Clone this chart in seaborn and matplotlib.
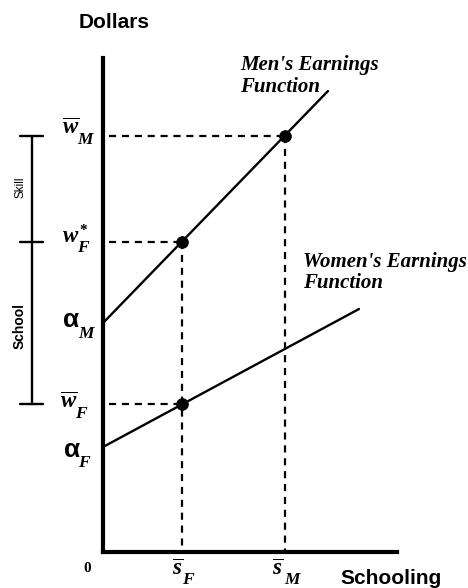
import matplotlib
matplotlib.use("Agg")
import matplotlib.pyplot as plt
from matplotlib.mathtext import MathTextParser
import seaborn as sns
import pandas as pd

# Earnings functions (schooling on x, dollars on y)
men_x = [0.0, 22.5]
men_y = [22.9, 46.1]
women_x = [0.0, 25.6]
women_y = [10.5, 24.3]

# Mean schooling and the wages marked on each function
s_bar_F = 7.9
s_bar_M = 18.2
w_bar_M = 41.6
w_star_F = 31.0
w_bar_F = 14.8
alpha_M = 22.9
alpha_F = 10.5

x_max = 29.4
y_max = 49.4

sns.set_theme(style="white")
plt.rcParams["font.family"] = ["Liberation Sans", "DejaVu Sans"]
plt.rcParams["text.color"] = "black"
plt.rcParams["mathtext.fontset"] = "custom"
plt.rcParams["mathtext.rm"] = "Liberation Serif:bold"
plt.rcParams["mathtext.bf"] = "Liberation Serif:bold"
plt.rcParams["mathtext.it"] = "Liberation Serif:italic:bold"
plt.rcParams["mathtext.sf"] = "Liberation Sans:bold"
if "mathtext.bfit" in plt.rcParams:
    plt.rcParams["mathtext.bfit"] = "Liberation Serif:italic:bold"

# Bold-italic command for symbols, falling back where unsupported
BI = r"\mathbfit"
try:
    MathTextParser("agg").parse(r"$\mathbfit{w}$")
except Exception:
    BI = r"\mathit"


def bi(s):
    return BI + "{" + s + "}"


fig = plt.figure(figsize=(4.68, 5.88), dpi=100)
ax = fig.add_axes([103 / 468, 36 / 588, 294 / 468, 494 / 588])
ax.set_xlim(0, x_max)
ax.set_ylim(0, y_max)

lines = pd.concat([
    pd.DataFrame({"schooling": men_x, "dollars": men_y, "group": "Men"}),
    pd.DataFrame({"schooling": women_x, "dollars": women_y, "group": "Women"}),
])
sns.lineplot(data=lines, x="schooling", y="dollars", units="group",
             estimator=None, color="black", linewidth=1.7, ax=ax, legend=False)

dash = dict(color="black", linewidth=1.6, linestyle=(0, (3.2, 2.6)))
ax.plot([0.6, s_bar_F], [w_star_F, w_star_F], **dash)
ax.plot([0.6, s_bar_F], [w_bar_F, w_bar_F], **dash)
ax.plot([0.6, s_bar_M], [w_bar_M, w_bar_M], **dash)
ax.plot([s_bar_F, s_bar_F], [w_star_F, 0], **dash)
ax.plot([s_bar_M, s_bar_M], [w_bar_M, 0], **dash)

dots = pd.DataFrame({"schooling": [s_bar_F, s_bar_M, s_bar_F],
                     "dollars": [w_star_F, w_bar_M, w_bar_F]})
sns.scatterplot(data=dots, x="schooling", y="dollars", color="black",
                s=70, edgecolor="black", zorder=5, ax=ax)

for side in ["top", "right"]:
    ax.spines[side].set_visible(False)
for side in ["left", "bottom"]:
    ax.spines[side].set_linewidth(3.0)
    ax.spines[side].set_color("black")
ax.set_xticks([])
ax.set_yticks([])
ax.set_xlabel("")
ax.set_ylabel("")

# Axis titles
fig.text(114 / 468, 1 - 22 / 588, "Dollars", fontsize=15, fontweight="bold",
         ha="center", va="center")
fig.text(391 / 468, 1 - 578 / 588, "Schooling", fontsize=15,
         fontweight="bold", ha="center", va="center")

serif_bi = dict(family="Liberation Serif", fontweight="bold", style="italic",
                fontsize=15, linespacing=1.1)
ax.text(13.7, 49.7, "Men's Earnings\nFunction", ha="left", va="top", **serif_bi)
ax.text(20.0, 30.0, "Women's Earnings\nFunction", ha="left", va="top", **serif_bi)


def symbol(x, y, main, sub, dx, dy, size=16.5, sup=None):
    """Symbol with a low subscript (and optional superscript)."""
    kw = dict(ha="left", va="baseline", clip_on=False)
    ax.text(x, y, "$" + main + "$", fontsize=size, **kw)
    ax.text(x + dx, y + dy, "$" + bi(sub) + "$", fontsize=12.5, **kw)
    if sup is not None:
        ax.text(x + dx + 0.2, y + 1.05, "$" + sup + "$", fontsize=11, **kw)


w_bar = "\\overline{" + bi("w") + "}"
s_bar = "\\overline{" + bi("s") + "}"
alpha = r"\mathsf{\alpha}"

# Wage and intercept labels on the dollar axis
symbol(-4.1, w_bar_M + 0.2, w_bar, "M", 1.5, -1.0)
symbol(-4.1, w_star_F, bi("w"), "F", 1.5, -1.05, sup="*")
symbol(-4.1, alpha_M - 0.4, alpha, "M", 1.55, -1.1, size=19)
symbol(-4.3, w_bar_F - 0.4, w_bar, "F", 1.5, -1.05)
symbol(-4.0, alpha_F - 1.0, alpha, "F", 1.55, -1.0, size=19)

# Schooling labels
ax.text(-1.6, -1.7, "0", family="Liberation Serif", fontweight="bold",
        fontsize=11, ha="center", va="center", clip_on=False)
symbol(s_bar_F - 1.0, -2.3, s_bar, "F", 1.0, -0.9)
symbol(s_bar_M - 1.3, -2.3, s_bar, "M", 1.25, -0.9)

# Skill / School bracket
bx = -7.1
ax.plot([bx, bx], [w_bar_F, w_bar_M], color="black", linewidth=1.7,
        clip_on=False)
for yv in [w_bar_M, w_star_F, w_bar_F]:
    ax.plot([bx - 1.2, bx + 1.1], [yv, yv], color="black", linewidth=1.7,
            clip_on=False)
ax.text(-8.2, 36.5, "Skill", rotation=90, fontsize=8.5,
        ha="center", va="center", clip_on=False)
ax.text(-8.3, 22.6, "School", rotation=90, fontsize=10, fontweight="bold",
        ha="center", va="center", clip_on=False)

fig.savefig("out.png", dpi=100)
